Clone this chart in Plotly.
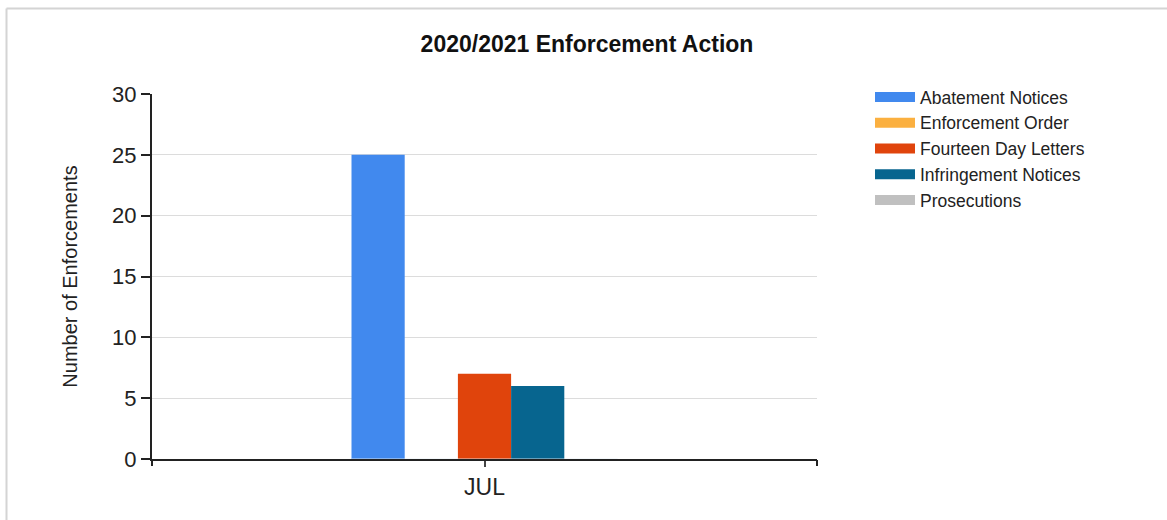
import plotly.graph_objects as go

months = ["JUL"]
series_names = ["Abatement Notices", "Enforcement Order", "Fourteen Day Letters",
                "Infringement Notices", "Prosecutions"]
abatement = [25]
enforcement_order = [0]
fourteen_day = [7]
infringement = [6]
prosecutions = [0]
colors = ["#4189EE", "#FBB040", "#E0440C", "#07658F", "#C0C0C0"]
y_ticks = [0, 5, 10, 15, 20, 25, 30]

values = [abatement, enforcement_order, fourteen_day, infringement, prosecutions]

fig = go.Figure()
for name, vals, col in zip(series_names, values, colors):
    fig.add_trace(go.Bar(x=months, y=vals, name=name, legendgroup=name, showlegend=False,
                         marker=dict(color=col, line=dict(width=0))))
# wide rectangular legend swatches (linked to the bars via legendgroup)
for name, col in zip(series_names, colors):
    fig.add_trace(go.Scatter(x=[None], y=[None], name=name, legendgroup=name, mode="lines",
                             line=dict(color=col, width=15), hoverinfo="skip"))

# secondary x axis for category boundary ticks
fig.add_trace(go.Bar(x=months, y=[0], xaxis="x2", showlegend=False, hoverinfo="skip",
                     marker=dict(color="rgba(0,0,0,0)")))

font_family = "Liberation Sans, Arial, sans-serif"
fig.update_layout(
    width=1167, height=520,
    paper_bgcolor="white", plot_bgcolor="white",
    margin=dict(l=152, r=350, t=94, b=61),
    barmode="group", bargap=0.6, bargroupgap=0,
    title=dict(text="<b>2020/2021 Enforcement Action</b>", x=0.503, xref="container",
               y=0.915, yref="container", yanchor="middle", xanchor="center",
               font=dict(family=font_family, size=23, color="#111")),
    font=dict(family=font_family, color="#222"),
    legend=dict(x=(870 - 152) / 665, xref="paper", xanchor="left",
                y=(459 - 79) / 365, yref="paper", yanchor="top",
                font=dict(size=17.5, color="#222"), tracegroupgap=0,
                itemwidth=40, bgcolor="rgba(0,0,0,0)"),
    xaxis=dict(showgrid=False, showline=True, linecolor="#222", linewidth=2,
               ticks="outside", ticklen=6, tickcolor="#444", tickwidth=2,
               tickfont=dict(size=23, color="#222"), fixedrange=True),
    xaxis2=dict(overlaying="x", matches="x", showline=False, showgrid=False,
                showticklabels=False, ticks="outside", tickson="boundaries",
                ticklen=6, tickcolor="#222", tickwidth=2, side="bottom", anchor="y"),
    yaxis=dict(range=[0, 30], tickvals=y_ticks, showgrid=True, gridcolor="#DCDCDC",
               gridwidth=1, showline=True, linecolor="#222", linewidth=2,
               ticks="outside", ticklen=9, tickcolor="#222", tickwidth=2,
               tickfont=dict(size=22, color="#222"), zeroline=False,
               title=dict(text="Number of Enforcements", standoff=29,
                          font=dict(size=20, color="#222"))),
    shapes=[
        dict(type="line", xref="paper", yref="paper",
             x0=(6.5 - 152) / 665, x1=(1167 - 152) / 665,
             y0=(520 - 61 - 8.5) / 365, y1=(520 - 61 - 8.5) / 365,
             line=dict(color="#D4D4D4", width=2)),
        dict(type="line", xref="paper", yref="paper",
             x0=(6.5 - 152) / 665, x1=(6.5 - 152) / 665,
             y0=(520 - 61 - 8.5) / 365, y1=-61 / 365,
             line=dict(color="#D4D4D4", width=2)),
    ],
)

fig.write_html("out.html", config={"displayModeBar": False},
               post_script="document.body.style.margin='0';")
